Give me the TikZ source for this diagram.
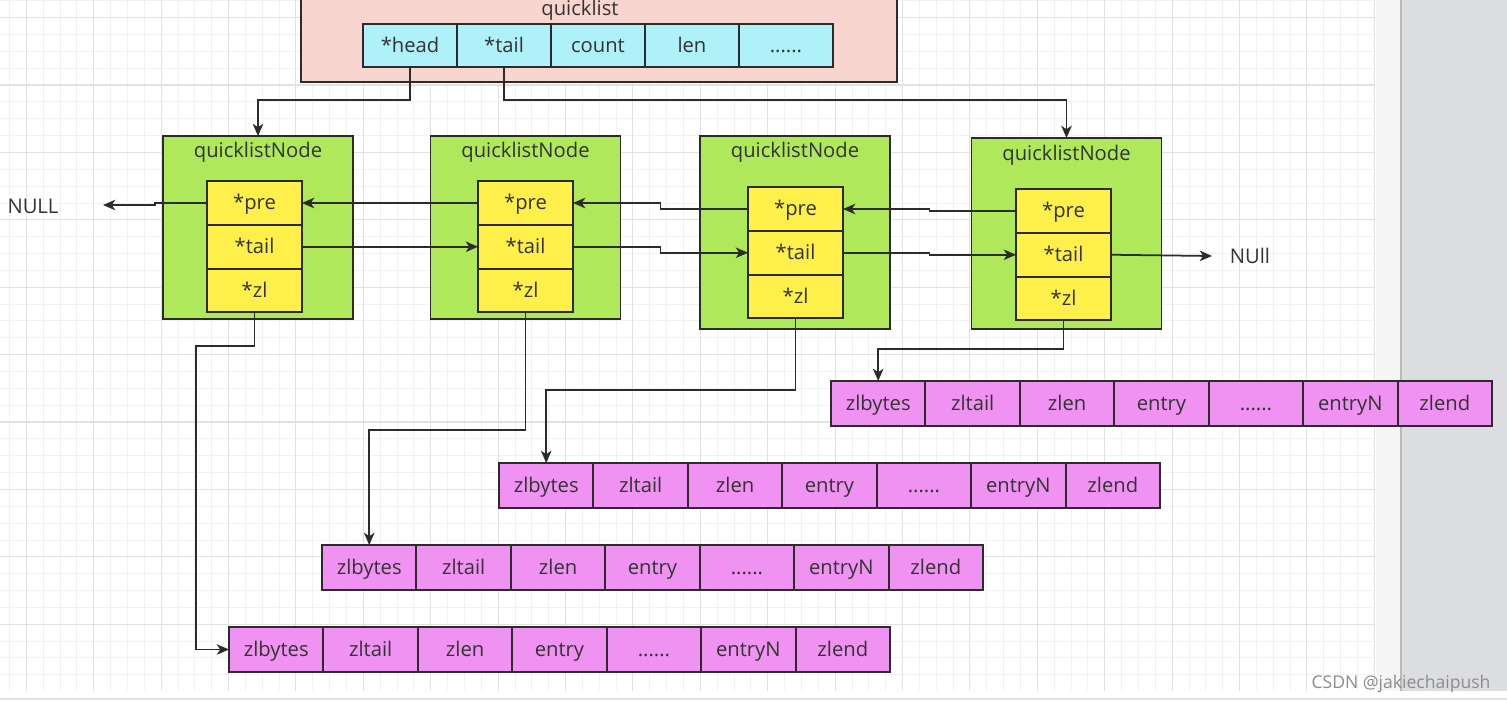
\documentclass[tikz,border=0pt]{standalone}
\usepackage{fontspec}
\setmainfont{Open Sans}
\usetikzlibrary{arrows.meta,positioning,calc}
\definecolor{qlFill}{HTML}{F8D5CF}
\definecolor{fieldFill}{HTML}{AEF1F9}
\definecolor{qnFill}{HTML}{AFE85B}
\definecolor{ptrFill}{HTML}{FFEF4A}
\definecolor{zlFill}{HTML}{F092F2}
\definecolor{lineDark}{HTML}{2B2B2B}
\definecolor{textDark}{HTML}{333333}
\definecolor{gridMinor}{HTML}{F1F1F1}
\definecolor{gridMajor}{HTML}{E1E1E1}
\definecolor{panelGray}{HTML}{DCDDE1}
\definecolor{panelStrip}{HTML}{F5F5F5}
\newcommand{\zlDots}{......}

\begin{document}
\begin{tikzpicture}[x=0.02cm, y=-0.02cm,
      boxBase/.style={rectangle, draw=lineDark, line width=1.1pt, inner sep=0pt, outer sep=0pt, text=textDark, font=\fontsize{11.5}{13}\selectfont, text height=9.6pt, text depth=2pt},
      outer/.style={boxBase, fill=qlFill, minimum width=11.92cm, minimum height=1.88cm},
      field/.style={boxBase, fill=fieldFill, minimum width=1.88cm, minimum height=0.86cm},
      qnode/.style={boxBase, fill=qnFill, minimum width=3.8cm},
      ptr/.style={boxBase, fill=ptrFill, minimum width=1.9cm, minimum height=0.875cm},
      cell/.style={boxBase, fill=zlFill, minimum width=1.8886cm, minimum height=0.9cm},
      title/.style={font=\fontsize{11.5}{13}\selectfont, text=textDark, inner sep=0pt, text height=9.6pt, text depth=2pt},
      link/.style={-{Stealth[length=7pt, width=6pt, inset=2pt]}, line width=1pt, draw=lineDark}
    ]
      \useasboundingbox (0,0) rectangle (1507,701);
      \clip (0,0) rectangle (1507,701);
      \foreach \k in {0,...,81} \draw[gridMinor, line width=0.5pt] ({9.45+16.85*\k},0) -- ({9.45+16.85*\k},691);
      \foreach \k in {0,...,40} \draw[gridMinor, line width=0.5pt] (0,{0.75+16.85*\k}) -- (1375,{0.75+16.85*\k});
      \foreach \k in {0,...,20} \draw[gridMajor, line width=0.6pt] ({26.3+67.4*\k},0) -- ({26.3+67.4*\k},691);
      \foreach \k in {0,...,9} \draw[gridMajor, line width=0.6pt] (0,{17.6+67.4*\k}) -- (1375,{17.6+67.4*\k});
      \fill[panelStrip] (1376,0) rectangle (1400,691);
      \fill[panelGray] (1400,0) rectangle (1507,691);
      \draw[gray!55, line width=1pt] (1401,0) -- (1401,691);
      \draw[gridMajor, line width=0.6pt] (0,699) -- (1507,699);

      \node[outer] (ql) at (599,35) {};
      \node[title] (qltitle) at (580,9) {quicklist};
      \node[field] (qhead) at (410,45.5) {*head};
      \node[field, right=0pt of qhead] (qtail) {*tail};
      \node[field, right=0pt of qtail] (qcount) {count};
      \node[field, right=0pt of qcount] (qlen) {len};
      \node[field, right=0pt of qlen] (qmore) {\zlDots};

      \node[qnode, minimum height=3.66cm] (qn1) at (258,227.5) {};
      \node[qnode, minimum height=3.66cm] (qn2) at (525.5,227.5) {};
      \node[qnode, minimum height=3.86cm] (qn3) at (795,232.5) {};
      \node[qnode, minimum height=3.82cm] (qn4) at (1066.5,233.5) {};
      \node[title] (t1) at (258,151) {quicklistNode};
      \node[title] (t2) at (525.5,151) {quicklistNode};
      \node[title] (t3) at (795,151) {quicklistNode};
      \node[title] (t4) at (1066.5,154) {quicklistNode};

      \node[ptr] (n1pre) at (254.5,203) {*pre};
      \node[ptr, below=0pt of n1pre] (n1tail) {*tail};
      \node[ptr, below=0pt of n1tail] (n1zl) {*zl};
      \node[ptr] (n2pre) at (525.5,203) {*pre};
      \node[ptr, below=0pt of n2pre] (n2tail) {*tail};
      \node[ptr, below=0pt of n2tail] (n2zl) {*zl};
      \node[ptr] (n3pre) at (795.5,209) {*pre};
      \node[ptr, below=0pt of n3pre] (n3tail) {*tail};
      \node[ptr, below=0pt of n3tail] (n3zl) {*zl};
      \node[ptr] (n4pre) at (1063.5,211) {*pre};
      \node[ptr, below=0pt of n4pre] (n4tail) {*tail};
      \node[ptr, below=0pt of n4tail] (n4zl) {*zl};

      \foreach \x/\y [count=\r] in {831/403.5, 499/485.5, 322/567.5, 229/649.5}
        \foreach \lab [count=\i] in {zlbytes, zltail, zlen, entry, \zlDots, entryN, zlend}
          \node[cell] (z\r-\i) at ({\x+94.43*(\i-0.5)},\y) {\lab};

      \node[title] (nullL) at (33,207) {NULL};
      \coordinate (nullLend) at (103,205);
      \node[title] (nullR) at (1250,257) {NUll};
      \coordinate (nullRend) at (1212,256);
      \node[title, font=\fontsize{10}{12}\selectfont, text=black!45] (mark) at (1401,682) {CSDN @jakiechaipush};

      \draw[link] (qhead.south) -- ++(0,33) -| (qn1.north);
      \draw[link] (qtail.south) -- ++(0,33) -| (qn4.north);

      \draw[link] (n1pre.west) -| ($(n1pre.west)!0.5!(nullLend)$) |- (nullLend);
      \draw[link] (n2pre.west) -- (n1pre.east);
      \draw[link] (n1tail.east) -- (n2tail.west);
      \draw[link] (n3pre.west) -| ($(n3pre.west)!0.5!(n2pre.east)$) |- (n2pre.east);
      \draw[link] (n2tail.east) -| ($(n2tail.east)!0.5!(n3tail.west)$) |- (n3tail.west);
      \draw[link] (n4pre.west) -| ($(n4pre.west)!0.5!(n3pre.east)$) |- (n3pre.east);
      \draw[link] (n3tail.east) -| ($(n3tail.east)!0.5!(n4tail.west)$) |- (n4tail.west);
      \draw[link] (n4tail.east) -- (nullRend);

      \draw[link] (n1zl.south) -- ++(0,34) -- ++(-58.5,0) |- (z4-1.west);
      \draw[link] (n2zl.south) -- ++(0,118) -| (z3-1.north);
      \draw[link] (n3zl.south) -- ++(0,72) -| (z2-1.north);
      \draw[link] (n4zl.south) -- ++(0,29) -| (z1-1.north);
    \end{tikzpicture}
\end{document}
